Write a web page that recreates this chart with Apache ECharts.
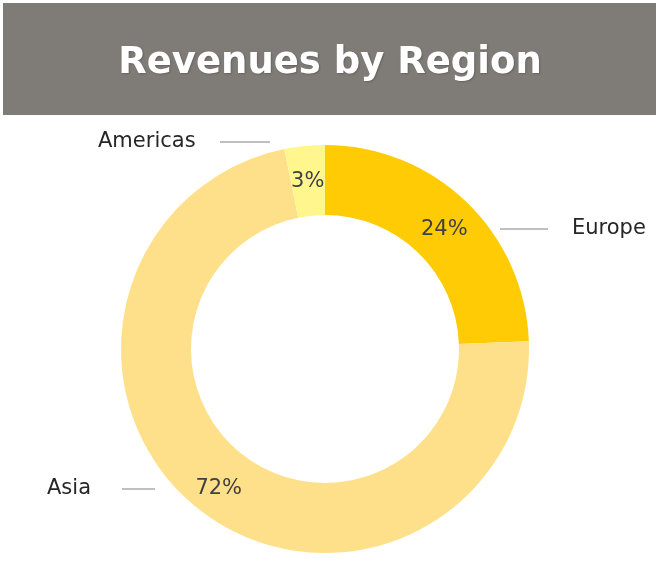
<!DOCTYPE html>
<html>
<head>
<meta charset="utf-8">
<title>Revenues by Region</title>
<script src="https://cdn.jsdelivr.net/npm/echarts@6/dist/echarts.min.js"></script>
<style>
  html, body { margin: 0; padding: 0; background: #fff; }
  #chart { width: 660px; height: 570px; }
</style>
</head>
<body>
<div id="chart"></div>
<script>
// regions, clockwise from 12 o'clock
const regions = ["Europe", "Asia", "Americas"];
const revenueShare = [24.4, 72.4, 3.2];
const sliceColors = ["#FFCB05", "#FFE08A", "#FFF68E"];

// where the outside name labels sit (Excel style, detached from the ring)
const nameLabelPos = {
  Europe: { x: 572, y: 229, lineFrom: 500, lineTo: 548 },
  Americas: { x: 98, y: 142, lineFrom: 220, lineTo: 270 },
  Asia: { x: 47, y: 489, lineFrom: 122, lineTo: 155 },
};

const pieData = regions.map((name, i) => ({
  name: name,
  value: revenueShare[i],
  itemStyle: { color: sliceColors[i] },
}));

const chart = echarts.init(document.getElementById("chart"));
chart.setOption({
  animation: false,
  textStyle: { fontFamily: "DejaVu Sans" },
  graphic: [
    {
      type: "rect",
      left: 3,
      top: 3,
      shape: { width: 653, height: 112 },
      style: { fill: "#7F7B76" },
      z: -1,
    },
  ],
  title: {
    text: "Revenues by Region",
    left: "center",
    top: 40,
    textStyle: {
      color: "#FFFFFF",
      fontFamily: "DejaVu Sans",
      fontWeight: "bold",
      fontSize: 37,
      textShadowColor: "rgba(0,0,0,0.2)",
      textShadowBlur: 2,
      textShadowOffsetX: 1,
      textShadowOffsetY: 1,
    },
  },
  series: [
    {
      // the ring itself, with percent labels inside
      type: "pie",
      center: [325, 349],
      radius: [134, 204],
      startAngle: 90,
      clockwise: true,
      silent: true,
      itemStyle: { borderColor: "#fff", borderWidth: 2 },
      label: {
        show: true,
        position: "inside",
        offset: [0, 4],
        color: "#404040",
        fontSize: 21,
        fontFamily: "DejaVu Sans",
        formatter: (p) => Math.round(p.percent) + "%",
      },
      labelLine: { show: false },
      data: pieData,
    },
    {
      // invisible copy that only carries the region names
      type: "pie",
      center: [325, 349],
      radius: [134, 204],
      startAngle: 90,
      clockwise: true,
      silent: true,
      itemStyle: { color: "rgba(0,0,0,0)", borderWidth: 0 },
      label: {
        show: true,
        position: "outside",
        color: "#262626",
        fontSize: 21,
        fontFamily: "DejaVu Sans",
        formatter: "{b}",
      },
      labelLine: {
        show: true,
        lineStyle: { color: "#808080", width: 1 },
      },
      labelLayout: function (params) {
        const name = regions[params.dataIndex];
        const p = nameLabelPos[name];
        return {
          x: p.x,
          y: p.y,
          align: "left",
          verticalAlign: "middle",
          labelLinePoints: [
            [p.lineFrom, p.y],
            [p.lineFrom, p.y],
            [p.lineTo, p.y],
          ],
        };
      },
      data: pieData,
    },
  ],
});
</script>
</body>
</html>
